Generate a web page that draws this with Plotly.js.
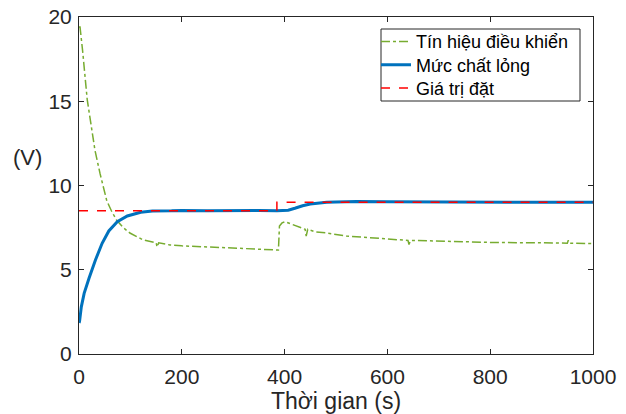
<!DOCTYPE html>
<html>
<head>
<meta charset="utf-8">
<script src="https://cdn.plot.ly/plotly-3.0.1.min.js"></script>
<style>html,body{margin:0;padding:0;background:#fff;}#chart{width:626px;height:414px;}</style>
</head>
<body>
<div id="chart"></div>
<script>
// Control signal (Tín hiệu điều khiển)
const tControl = [0, 2, 7, 16, 31, 41, 54, 63, 73, 86, 99, 112, 125, 150, 152, 155, 177, 200, 250, 300, 350, 385, 388, 390, 395, 401, 410, 420, 440, 442, 445, 460, 482, 520, 560, 611, 640, 642, 645, 680, 741, 800, 900, 950, 952, 955, 1000];
const vControl = [19.4, 19.4, 18.0, 15.1, 12.1, 10.7, 9.1, 8.5, 7.95, 7.5, 7.18, 6.95, 6.77, 6.6, 6.35, 6.6, 6.47, 6.42, 6.35, 6.3, 6.25, 6.2, 6.17, 7.6, 7.78, 7.85, 7.75, 7.62, 7.4, 7.0, 7.4, 7.25, 7.18, 7.0, 6.9, 6.77, 6.74, 6.5, 6.74, 6.72, 6.65, 6.62, 6.6, 6.58, 6.75, 6.58, 6.55];
// Liquid level (Mức chất lỏng)
const tLevel = [0, 1, 4.5, 10, 19.5, 32, 45, 58, 74.5, 94, 120, 143, 180, 200, 250, 300, 350, 385, 400, 407, 420, 435, 450, 465, 482, 500, 540, 600, 700, 800, 900, 1000];
const vLevel = [1.85, 1.92, 2.8, 3.6, 4.49, 5.58, 6.57, 7.3, 7.85, 8.19, 8.41, 8.49, 8.5, 8.52, 8.5, 8.53, 8.52, 8.5, 8.51, 8.53, 8.65, 8.8, 8.9, 8.96, 9.0, 9.02, 9.05, 9.03, 9.02, 9.0, 9.02, 9.0];
// Set point (Giá trị đặt)
const tSet = [0, 385, 385.01, 1000];
const vSet = [8.5, 8.5, 9.0, 9.0];

const xTicks = [0, 200, 400, 600, 800, 1000];
const yTicks = [0, 5, 10, 15, 20];

const FAM = 'Liberation Sans, Arial, sans-serif';
const tickFont = {family: FAM, size: 21, color: '#262626'};
const legFont = {family: FAM, size: 18, color: '#000'};

const traces = [
  {x: tControl, y: vControl, name: 'Tín hiệu điều khiển', mode: 'lines', legend: 'legend',
   line: {color: '#77AC30', width: 1.5, dash: 'dashdot'}},
  {x: tLevel, y: vLevel, name: 'Mức chất lỏng', mode: 'lines', legend: 'legend2',
   line: {color: '#0072BD', width: 3}},
  {x: tSet, y: vSet, name: 'Giá trị đặt', mode: 'lines', legend: 'legend3',
   line: {color: '#FF0000', width: 1.5, dash: 'dash'}}
];

const axisCommon = {
  showgrid: false, zeroline: false, showline: true, linecolor: '#262626', linewidth: 1,
  mirror: 'allticks', ticks: 'inside', ticklen: 5, tickcolor: '#262626',
  tickfont: tickFont
};

function leg(yPx) {
  return {x: (376 - 79) / 514, y: (354 - yPx) / 337, xanchor: 'left', yanchor: 'middle',
          bgcolor: 'rgba(0,0,0,0)', borderwidth: 0, font: legFont};
}

const layout = {
  width: 626, height: 414,
  margin: {l: 79, r: 33, t: 17, b: 60},
  paper_bgcolor: '#fff', plot_bgcolor: '#fff',
  font: tickFont,
  showlegend: true,
  legend: leg(41.7),
  legend2: leg(65),
  legend3: leg(88.3),
  shapes: [{type: 'rect', xref: 'paper', yref: 'paper', layer: 'above',
    x0: (381 - 79) / 514, x1: (580 - 79) / 514, y0: (354 - 101) / 337, y1: (354 - 29) / 337,
    fillcolor: '#fff', line: {color: '#262626', width: 1}}],
  xaxis: Object.assign({}, axisCommon, {range: [0, 1000], tickvals: xTicks, ticklabelstandoff: 4,
    title: {text: 'Thời gian (s)', font: {family: FAM, size: 23, color: '#262626'}, standoff: 2}}),
  yaxis: Object.assign({}, axisCommon, {range: [0, 20], tickvals: yTicks, ticklabelstandoff: 2}),
  annotations: [{text: '(V)', xref: 'paper', yref: 'paper', x: -0.1, y: 0.582,
    xanchor: 'center', yanchor: 'middle', showarrow: false,
    font: {family: FAM, size: 22, color: '#262626'}}]
};

Plotly.newPlot('chart', traces, layout, {displayModeBar: false, staticPlot: true});
</script>
</body>
</html>
